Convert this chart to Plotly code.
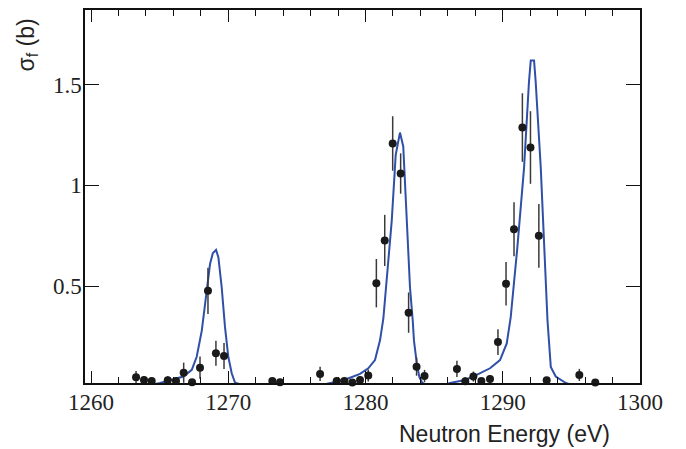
import plotly.graph_objects as go

# Measured points
energy = [1263.28, 1263.86, 1264.42, 1265.59, 1266.19, 1266.75, 1267.36, 1267.94, 1268.52, 1269.10,
          1269.69, 1273.21, 1273.77, 1276.69, 1277.90, 1278.46, 1279.04, 1279.60, 1280.20, 1280.79,
          1281.40, 1281.98, 1282.56, 1283.14, 1283.72, 1284.30, 1286.66, 1287.27, 1287.86, 1288.44,
          1289.07, 1289.65, 1290.24, 1290.82, 1291.43, 1292.02, 1292.63, 1293.20, 1295.58, 1296.74]
sigma = [0.049, 0.035, 0.030, 0.034, 0.030, 0.071, 0.024, 0.096, 0.477, 0.167,
         0.154, 0.030, 0.024, 0.065, 0.030, 0.030, 0.022, 0.035, 0.057, 0.515,
         0.727, 1.208, 1.059, 0.369, 0.101, 0.055, 0.090, 0.029, 0.052, 0.030,
         0.040, 0.223, 0.512, 0.783, 1.287, 1.188, 0.750, 0.034, 0.060, 0.022]
sigma_err = [0.03, 0.02, 0.015, 0.02, 0.02, 0.05, 0.01, 0.055, 0.115, 0.062,
             0.064, 0.015, 0.01, 0.035, 0.02, 0.02, 0.01, 0.02, 0.03, 0.12,
             0.127, 0.135, 0.10, 0.10, 0.045, 0.03, 0.04, 0.02, 0.025, 0.015,
             0.02, 0.064, 0.108, 0.134, 0.17, 0.18, 0.158, 0.015, 0.03, 0.01]

# Calculated curve
curve_e = [1259.56, 1264.0, 1265.03, 1266.73, 1267.34, 1267.70, 1268.07, 1268.38, 1268.67, 1268.87,
           1269.11, 1269.28, 1269.52, 1269.76, 1270.00, 1270.25, 1270.49, 1271.5, 1276.5, 1277.54,
           1278.63, 1279.6, 1280.2, 1280.69, 1281.06, 1281.3, 1281.54, 1281.91, 1282.2, 1282.51,
           1282.75, 1283.0, 1283.24, 1283.44, 1283.53, 1283.73, 1283.92, 1284.14, 1285.0, 1285.5,
           1286.16, 1287.25, 1288.1, 1289.07, 1289.8, 1290.29, 1290.58, 1291.06, 1291.55, 1291.91,
           1292.04, 1292.28, 1292.4, 1292.77, 1293.01, 1293.26, 1293.5, 1293.86, 1294.6, 1295.5, 1300.0]
curve_s = [0.0, 0.005, 0.02, 0.052, 0.085, 0.15, 0.28, 0.446, 0.61, 0.663,
           0.68, 0.643, 0.495, 0.298, 0.15, 0.068, 0.022, 0.0, 0.005, 0.022,
           0.04, 0.065, 0.093, 0.134, 0.233, 0.34, 0.544, 0.824, 1.152, 1.262,
           1.193, 0.824, 0.495, 0.33, 0.23, 0.12, 0.05, 0.02, 0.0, 0.005,
           0.02, 0.035, 0.06, 0.093, 0.134, 0.216, 0.347, 0.69, 1.086, 1.513,
           1.62, 1.62, 1.513, 1.086, 0.69, 0.33, 0.1, 0.052, 0.02, 0.0, 0.0]

x_ticks = [1260, 1270, 1280, 1290, 1300]
y_ticks = [0.5, 1.0, 1.5]
y_ticktext = ["0.5", "1", "1.5"]

fig = go.Figure()
fig.add_trace(go.Scatter(
    x=curve_e, y=curve_s, mode="lines",
    line=dict(color="#2f4fa8", width=2), hoverinfo="skip", showlegend=False))
fig.add_trace(go.Scatter(
    x=energy, y=sigma, mode="markers",
    marker=dict(color="#1a1a1a", size=8),
    error_y=dict(type="data", array=sigma_err, color="#3a3a3a", thickness=1.5, width=0),
    cliponaxis=False, showlegend=False))

axis_common = dict(showgrid=False, zeroline=False, showline=True, linecolor="#111111",
                   linewidth=1.5, mirror="ticks", ticks="inside", tickcolor="#111111",
                   tickwidth=1.2,
                   tickfont=dict(family="Liberation Serif", size=23, color="#222222"))

fig.update_xaxes(range=[1259.56, 1300], tickvals=x_ticks, ticklen=12,
                 minor=dict(dtick=2, ticklen=6, ticks="inside", tickcolor="#111111", tickwidth=1.2),
                 ticklabelstandoff=-2, **axis_common)
fig.update_yaxes(range=[0.02, 1.87], tickvals=y_ticks, ticktext=y_ticktext, ticklen=14,
                 ticklabelstandoff=-3, **axis_common)

# page body has an 8px margin, so the figure origin sits at (8, 8)
plot_h = 375.0
fig.add_annotation(text="Neutron Energy (eV)", xref="paper", yref="paper",
                   x=(612 - 85) / 555, y=(383 - 434) / plot_h, xanchor="right", yanchor="middle",
                   showarrow=False, font=dict(family="Liberation Sans", size=23, color="#222222"))
fig.add_annotation(text="σ<sub>f</sub> (b)", xref="paper", yref="paper",
                   x=(27 - 85) / 555, y=(383 - 15) / plot_h, xanchor="center", yanchor="top",
                   textangle=-90, showarrow=False,
                   font=dict(family="Liberation Sans", size=23, color="#222222"))

fig.update_layout(width=678, height=441, margin=dict(l=77, r=46, t=0, b=66),
                  plot_bgcolor="white", paper_bgcolor="white")

fig.write_html("out.html")
